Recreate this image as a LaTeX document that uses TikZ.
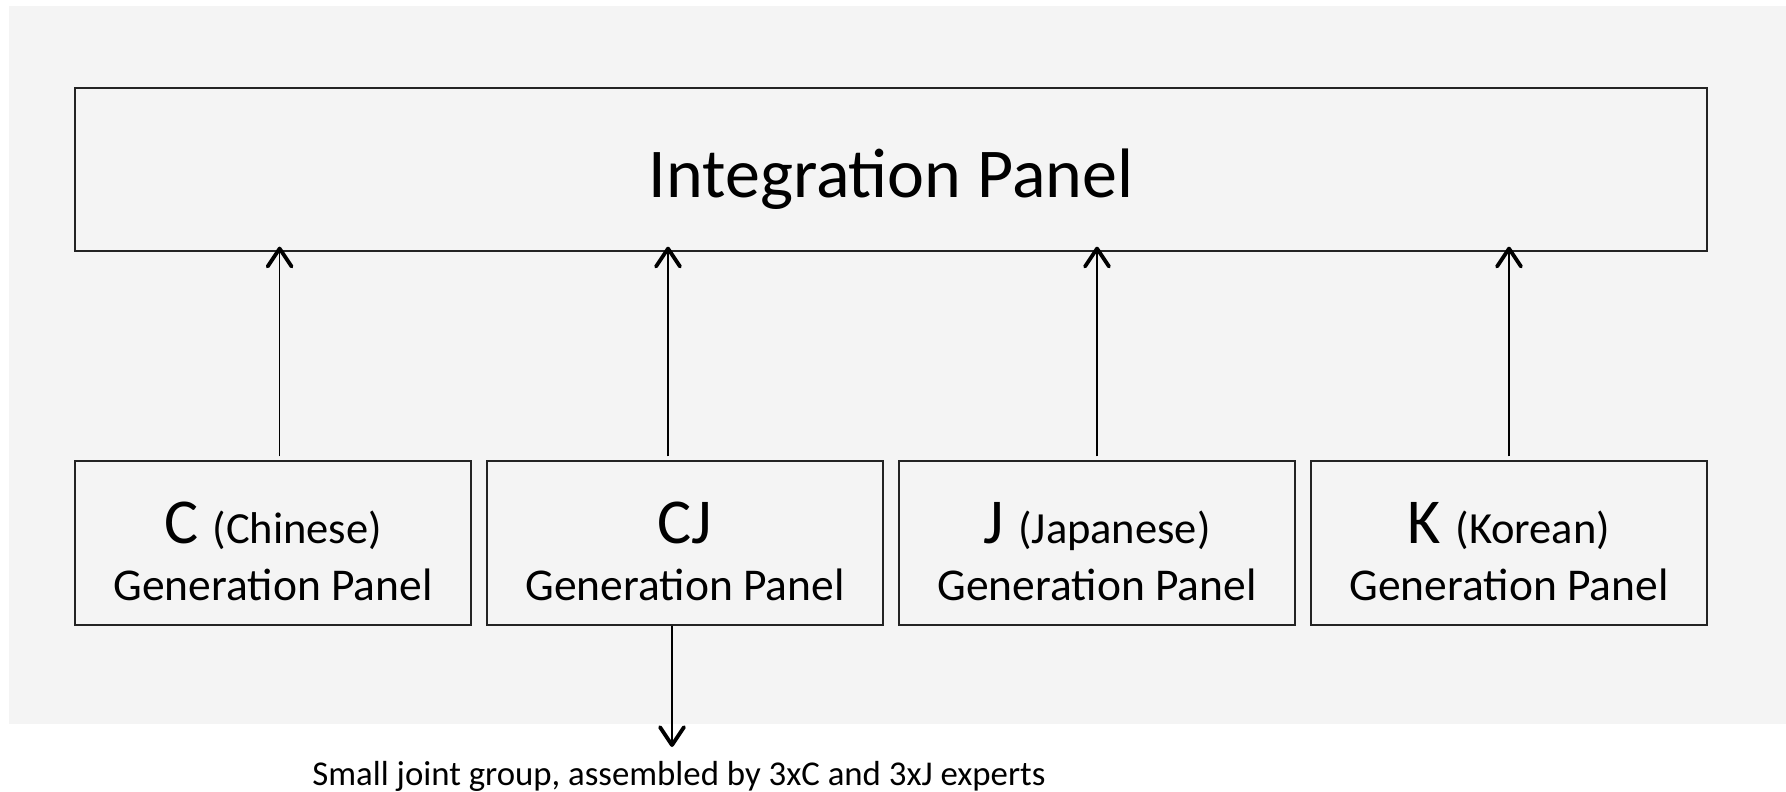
\documentclass[tikz,border=0pt]{standalone}
\usepackage{fontspec}
\setmainfont{Carlito}
\usetikzlibrary{arrows.meta,calc}
\definecolor{bggray}{RGB}{244,244,244}
\definecolor{edgecol}{RGB}{35,35,35}
\tikzset{
  panel/.style={draw=edgecol, line width=1.3pt, fill=bggray, inner sep=0pt,
                minimum width=396pt, minimum height=164pt},
  arr/.style={line width=1.7pt, draw=black,
              -{Straight Barb[length=18pt,width=24pt,line width=3.8pt,round]}},
  bigtxt/.style={anchor=base, font=\fontsize{70}{70}\selectfont},
  l1txt/.style={anchor=base, font=\fontsize{64}{64}\selectfont},
  l2txt/.style={anchor=base, font=\fontsize{45.5}{45.5}\selectfont},
  notetxt/.style={anchor=base, font=\fontsize{34.8}{34.8}\selectfont}
}
\newcommand{\smallpar}[1]{{\fontsize{44.5}{44.5}\selectfont #1}}
\begin{document}
\begin{tikzpicture}[x=1pt,y=-1pt]
\useasboundingbox (0,0) rectangle (1786,792);
\fill[bggray] (9,6) rectangle (1786,724);

% integration panel
\node[panel, minimum width=1632pt, minimum height=163pt] (integ) at (891,169.5) {};
\node[bigtxt] (integt) at (891,197) {Integration Panel};

% generation panels
\node[panel] (c)  at (273,543) {};
\node[panel] (cj) at (685,543) {};
\node[panel] (j)  at (1097,543) {};
\node[panel] (k)  at (1509,543) {};

\node[l1txt] (ct1)  at (273,543)  {C \smallpar{(Chinese)}};
\node[l2txt] (ct2)  at (273,600)  {Generation Panel};
\node[l1txt] (cjt1) at (685,543)  {CJ};
\node[l2txt] (cjt2) at (685,600)  {Generation Panel};
\node[l1txt] (jt1)  at (1097,543) {J \smallpar{(Japanese)}};
\node[l2txt] (jt2)  at (1097,600) {Generation Panel};
\node[l1txt] (kt1)  at (1509,543) {K \smallpar{(Korean)}};
\node[l2txt] (kt2)  at (1509,600) {Generation Panel};

% upward connectors
\coordinate (ca)  at ([xshift=6.6pt,yshift=4pt]c.north);
\coordinate (cja) at ([xshift=-17pt,yshift=4pt]cj.north);
\coordinate (ja)  at ([yshift=4pt]j.north);
\coordinate (ka)  at ([yshift=4pt]k.north);
\draw[arr] (ca)  -- ($(ca |- integ.south)+(0,-5)$);
\draw[arr] (cja) -- ($(cja |- integ.south)+(0,-5)$);
\draw[arr] (ja)  -- ($(ja |- integ.south)+(0,-5)$);
\draw[arr] (ka)  -- ($(ka |- integ.south)+(0,-5)$);

% downward connector
\coordinate (cjd) at ([xshift=-13pt]cj.south);
\coordinate (cjend) at (672,747);
\draw[arr] (cjd) -- (cjend);
\node[notetxt] (note) at (679,785) {Small joint group, assembled by 3xC and 3xJ experts};
\end{tikzpicture}
\end{document}
